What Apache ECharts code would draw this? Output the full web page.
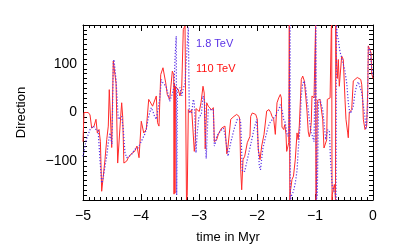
<!DOCTYPE html>
<html><head><meta charset="utf-8">
<script src="https://cdn.jsdelivr.net/npm/echarts@6/dist/echarts.min.js"></script>
<style>html,body{margin:0;padding:0;background:#fff}#c{width:415px;height:250px}</style>
</head><body><div id="c"></div>
<script>
// 110 TeV (red, solid)
const redTime = [
-5.000,-4.983,-4.909,-4.879,-4.850,-4.810,-4.776,-4.753,-4.724,-4.700,
-4.678,-4.650,-4.621,-4.591,-4.564,-4.547,-4.522,-4.505,-4.488,-4.478,
-4.448,-4.430,-4.402,-4.375,-4.350,-4.333,-4.315,-4.295,-4.276,-4.247,
-4.219,-4.167,-4.109,-4.069,-4.034,-3.995,-3.953,-3.909,-3.867,-3.840,
-3.800,-3.776,-3.736,-3.715,-3.690,-3.660,-3.621,-3.591,-3.574,-3.547,
-3.505,-3.478,-3.460,-3.436,-3.430,-3.422,-3.414,-3.405,-3.357,-3.328,
-3.298,-3.271,-3.241,-3.225,-3.216,-3.203,-3.184,-3.155,-3.126,-3.098,
-3.081,-3.064,-3.052,-3.034,-2.995,-2.966,-2.931,-2.910,-2.893,-2.867,
-2.840,-2.822,-2.781,-2.753,-2.735,-2.724,-2.695,-2.667,-2.638,-2.609,
-2.581,-2.552,-2.520,-2.500,-2.453,-2.397,-2.350,-2.310,-2.298,-2.281,
-2.264,-2.241,-2.212,-2.167,-2.121,-2.109,-2.081,-2.022,-2.005,-1.995,
-1.978,-1.948,-1.919,-1.879,-1.833,-1.793,-1.764,-1.741,-1.712,-1.684,
-1.655,-1.626,-1.598,-1.580,-1.569,-1.540,-1.522,-1.500,-1.488,-1.466,
-1.453,-1.443,-1.434,-1.422,-1.397,-1.371,-1.340,-1.310,-1.290,-1.271,
-1.253,-1.236,-1.212,-1.184,-1.155,-1.138,-1.116,-1.098,-1.081,-1.064,
-1.052,-1.017,-1.000,-0.990,-0.985,-0.975,-0.960,-0.943,-0.914,-0.891,
-0.867,-0.845,-0.816,-0.798,-0.788,-0.759,-0.740,-0.719,-0.712,-0.706,
-0.702,-0.684,-0.667,-0.655,-0.647,-0.642,-0.633,-0.616,-0.598,-0.581,
-0.540,-0.512,-0.483,-0.466,-0.436,-0.426,-0.409,-0.367,-0.340,-0.310,
-0.271,-0.212,-0.195,-0.178,-0.167,-0.138,-0.109,-0.091,-0.081,-0.052,
-0.034,-0.022,0.000];
const redDirection = [
-60,0,0,-5,-32,-28,-14,-42,-35,-60,
-162,-131,-97,-56,-28,47,44,-72,-70,106,
102,60,-104,-104,-8,20,-10,-104,-107,-100,
-93,-85,-80,-69,-93,-18,-42,-35,27,25,
13,13,34,-21,-28,78,92,89,61,37,
27,30,85,78,-168,60,-166,54,47,34,
50,171,178,175,-180,-170,6,0,6,5,
-80,-60,8,10,2,20,54,40,-75,20,
13,10,5,10,-60,-62,-56,-45,-38,-32,
-28,-28,-85,-70,-14,-8,-4,-8,-14,-117,
-159,-97,-90,-62,-49,-8,-1,-4,0,-14,
-76,-97,-69,-45,3,6,0,-8,-14,-45,
20,30,37,30,-30,-35,-25,-45,-80,-69,
-62,180,-180,-160,-138,-131,-97,-42,-56,-28,
-25,68,75,65,27,3,-40,-50,-40,-20,
34,30,34,180,-180,-170,25,27,27,27,
-14,-73,-69,-56,27,30,30,175,180,-180,
-169,-159,-148,-160,-180,180,116,70,109,54,
116,109,27,-14,-42,-52,0,6,65,68,
72,68,58,27,-14,-35,-28,47,137,140,
123,80,70];
// 1.8 TeV (blue, dotted)
const blueTime = [
-5.000,-4.943,-4.879,-4.821,-4.776,-4.740,-4.707,-4.678,-4.660,-4.621,
-4.591,-4.564,-4.535,-4.515,-4.500,-4.478,-4.466,-4.431,-4.408,-4.391,
-4.362,-4.333,-4.305,-4.276,-4.247,-4.219,-4.167,-4.109,-4.052,-4.005,
-3.966,-3.937,-3.909,-3.879,-3.850,-3.822,-3.795,-3.765,-3.736,-3.707,
-3.678,-3.650,-3.621,-3.590,-3.569,-3.540,-3.505,-3.478,-3.455,-3.431,
-3.409,-3.392,-3.385,-3.374,-3.328,-3.298,-3.270,-3.241,-3.212,-3.184,
-3.167,-3.126,-3.098,-3.081,-3.052,-3.030,-3.000,-2.960,-2.931,-2.905,
-2.876,-2.840,-2.800,-2.753,-2.736,-2.710,-2.695,-2.638,-2.581,-2.552,
-2.534,-2.500,-2.453,-2.397,-2.340,-2.298,-2.281,-2.253,-2.212,-2.167,
-2.109,-2.052,-2.005,-1.980,-1.960,-1.940,-1.900,-1.862,-1.833,-1.810,
-1.776,-1.741,-1.718,-1.684,-1.660,-1.626,-1.598,-1.569,-1.540,-1.512,
-1.488,-1.466,-1.453,-1.431,-1.425,-1.402,-1.371,-1.340,-1.310,-1.288,
-1.271,-1.253,-1.240,-1.212,-1.184,-1.160,-1.138,-1.116,-1.098,-1.081,
-1.064,-1.040,-1.017,-1.000,-0.985,-0.975,-0.960,-0.940,-0.914,-0.890,
-0.867,-0.845,-0.816,-0.798,-0.780,-0.750,-0.733,-0.719,-0.702,-0.684,
-0.667,-0.650,-0.635,-0.630,-0.618,-0.598,-0.569,-0.540,-0.512,-0.483,
-0.453,-0.426,-0.397,-0.367,-0.340,-0.310,-0.281,-0.253,-0.220,-0.195,
-0.167,-0.138,-0.121,-0.109,-0.091,-0.081,-0.052,-0.034,-0.022,0.000];
const blueDirection = [
-90,-56,-35,-28,-35,-36,-97,-145,-140,-111,
-90,-62,-42,-55,-65,102,109,68,20,-14,
-14,-8,-35,-83,-93,-95,-87,-76,-73,-62,
-52,-45,-35,-14,0,10,2,-8,-14,-18,
27,68,61,58,54,41,23,20,40,54,
123,157,-170,47,51,34,50,60,61,175,
0,0,27,20,-83,-40,-8,-5,34,25,
-95,6,6,6,-69,-60,-49,-39,-32,-45,
-60,-90,-62,-35,-14,-14,-21,-121,-121,-97,
-66,-35,-14,-14,-110,-118,-75,-55,-42,-30,
-21,-15,-11,-8,0,6,16,5,-14,-21,
-42,-49,-42,180,-180,-170,-162,-145,-120,-76,
-49,-20,30,60,65,50,27,5,-14,-28,
-42,-50,-60,-56,180,-180,-170,20,27,27,
6,-20,-56,-56,-35,-40,-97,-124,-152,-159,
-155,-166,-180,180,160,150,125,113,110,85,
60,20,-2,3,13,41,56,63,62,41,
15,-10,-35,-20,13,135,127,110,90,75];
const xTickLabels = ['\u22125','\u22124','\u22123','\u22122','\u22121','0'];
const yTickLabels = {'-100':'\u2212100','0':'0','100':'100'};

const zip = (a, b) => a.map((t, i) => [t, b[i]]);
const font = 'Liberation Sans, Arial, sans-serif';
const axisCommon = {
  type: 'value',
  axisLine: { show: true, onZero: false, lineStyle: { color: '#000', width: 1 } },
  splitLine: { show: false },
  minorSplitLine: { show: false }
};
const chart = echarts.init(document.getElementById('c'), null, { renderer: 'canvas' });
chart.setOption({
  animation: false,
  backgroundColor: '#fff',
  grid: { left: 83, right: 42, top: 25, bottom: 50, containLabel: false },
  xAxis: [
    Object.assign({}, axisCommon, {
      min: -5, max: 0, interval: 1, position: 'bottom',
      axisTick: { show: true, inside: true, length: 6, lineStyle: { color: '#000' } },
      minorTick: { show: true, splitNumber: 10, length: 3, lineStyle: { color: '#000' } },
      axisLabel: { color: '#000', fontSize: 14, fontFamily: font, margin: 9,
        formatter: v => xTickLabels[Math.round(v + 5)] },
      name: 'time in Myr', nameLocation: 'middle', nameGap: 31,
      nameTextStyle: { color: '#000', fontSize: 13, fontFamily: font }
    }),
    Object.assign({}, axisCommon, {
      min: -5, max: 0, interval: 1, position: 'top',
      axisTick: { show: true, inside: true, length: 6, lineStyle: { color: '#000' } },
      minorTick: { show: true, splitNumber: 10, length: 3, lineStyle: { color: '#000' } },
      axisLabel: { show: false }
    })
  ],
  yAxis: [
    Object.assign({}, axisCommon, {
      min: -180, max: 180, interval: 10, position: 'left',
      axisTick: { show: true, inside: true, length: 4, lineStyle: { color: '#000' } },
      axisLabel: { color: '#000', fontSize: 14, fontFamily: font, margin: 6,
        formatter: v => (yTickLabels[String(Math.round(v))] || '') },
      name: 'Direction', nameLocation: 'middle', nameGap: 55, nameRotate: 90,
      nameTextStyle: { color: '#000', fontSize: 13, fontFamily: font }
    }),
    Object.assign({}, axisCommon, {
      min: -180, max: 180, interval: 10, position: 'right',
      axisTick: { show: true, inside: true, length: 4, lineStyle: { color: '#000' } },
      axisLabel: { show: false }
    })
  ],
  graphic: [
    { type: 'text', left: 196, top: 38, style: { text: '1.8 TeV', fill: '#5a32e6', font: '11px ' + font } },
    { type: 'text', left: 196, top: 63, style: { text: '110 TeV', fill: '#ff1010', font: '11px ' + font } }
  ],
  series: [
    { name: '110 TeV', type: 'line', xAxisIndex: 0, yAxisIndex: 0, data: zip(redTime, redDirection),
      showSymbol: false, symbol: 'none', clip: true,
      lineStyle: { color: '#ff2a2a', width: 1, type: 'solid' } },
    { name: '1.8 TeV', type: 'line', xAxisIndex: 0, yAxisIndex: 0, data: zip(blueTime, blueDirection),
      showSymbol: false, symbol: 'none', clip: true,
      lineStyle: { color: '#5a32e6', width: 1.2, type: [1.2, 1.8] } }
  ]
});
</script></body></html>
